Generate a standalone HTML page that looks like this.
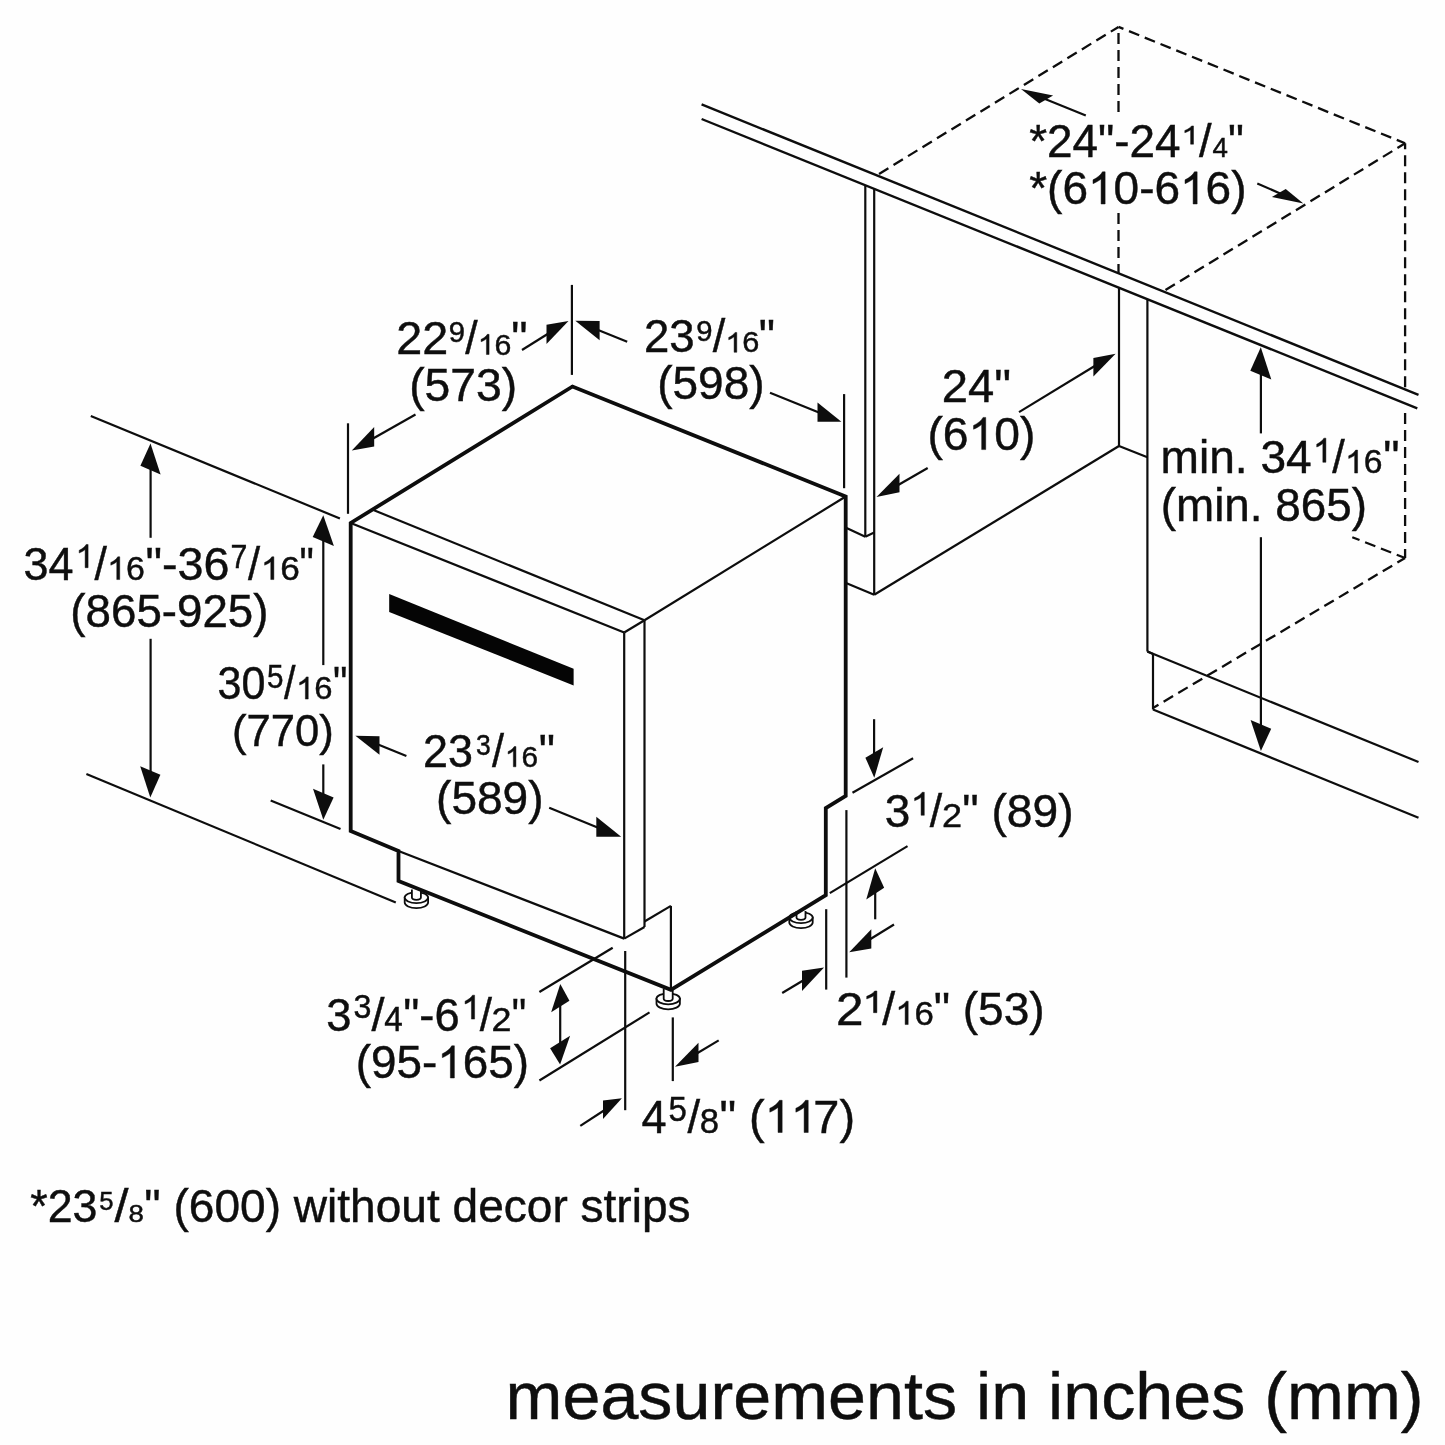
<!DOCTYPE html>
<html><head><meta charset="utf-8"><title>Dimensions</title>
<style>
html,body{margin:0;padding:0;background:#fff;}
body{width:1445px;height:1445px;overflow:hidden;}
svg{display:block;}
svg text{font-family:"Liberation Sans",sans-serif;fill:#0d0d0d;stroke:#0d0d0d;stroke-width:0.45px;}
</style></head><body>
<svg width="1445" height="1445" viewBox="0 0 1445 1445" stroke="#0d0d0d" stroke-linecap="butt">
<rect x="0" y="0" width="1445" height="1445" fill="#fefefe" stroke="none"/>
<line x1="701.60" y1="104.40" x2="1418.50" y2="394.82" stroke-width="2.4" />
<line x1="701.60" y1="119.00" x2="1417.30" y2="408.36" stroke-width="2.4" />
<line x1="1118.50" y1="26.90" x2="877.90" y2="174.60" stroke-width="2.3" stroke-dasharray="11 6" stroke-dashoffset="2"/>
<line x1="1405.10" y1="143.30" x2="1118.50" y2="26.90" stroke-width="2.3" stroke-dasharray="11 6" stroke-dashoffset="2"/>
<line x1="1118.50" y1="26.90" x2="1118.50" y2="114.80" stroke-width="2.3" stroke-dasharray="11 6" stroke-dashoffset="11"/>
<line x1="1118.50" y1="213.00" x2="1118.50" y2="273.29" stroke-width="2.3" stroke-dasharray="11 6" stroke-dashoffset="0"/>
<line x1="1405.10" y1="143.30" x2="1405.10" y2="388.50" stroke-width="2.3" stroke-dasharray="11 6" stroke-dashoffset="5"/>
<line x1="1405.10" y1="413.10" x2="1405.10" y2="558.00" stroke-width="2.3" stroke-dasharray="11 6" stroke-dashoffset="0"/>
<line x1="1405.10" y1="143.30" x2="1164.00" y2="291.00" stroke-width="2.3" stroke-dasharray="11 6" stroke-dashoffset="2"/>
<line x1="1405.10" y1="558.00" x2="1153.00" y2="708.00" stroke-width="2.3" stroke-dasharray="11 6" stroke-dashoffset="2"/>
<line x1="1405.10" y1="558.00" x2="1352.30" y2="537.20" stroke-width="2.3" stroke-dasharray="11 6" stroke-dashoffset="2"/>
<line x1="865.30" y1="185.18" x2="865.30" y2="536.70" stroke-width="2.2" />
<line x1="874.20" y1="188.78" x2="874.20" y2="594.80" stroke-width="2.2" />
<line x1="865.30" y1="536.70" x2="874.20" y2="532.60" stroke-width="2.2" />
<line x1="865.30" y1="536.70" x2="846.00" y2="527.70" stroke-width="2.2" />
<line x1="846.00" y1="583.00" x2="874.20" y2="594.80" stroke-width="2.2" />
<line x1="874.20" y1="594.80" x2="1119.00" y2="446.00" stroke-width="2.2" />
<line x1="1119.00" y1="287.75" x2="1119.00" y2="446.00" stroke-width="2.2" />
<line x1="1119.00" y1="446.00" x2="1147.40" y2="457.20" stroke-width="2.2" />
<line x1="1147.40" y1="299.24" x2="1147.40" y2="651.50" stroke-width="2.2" />
<line x1="1147.40" y1="651.50" x2="1418.50" y2="762.10" stroke-width="2.2" />
<line x1="1147.40" y1="651.50" x2="1153.00" y2="654.00" stroke-width="2.2" />
<line x1="1153.00" y1="654.00" x2="1153.00" y2="709.50" stroke-width="2.2" />
<line x1="1153.00" y1="709.50" x2="1418.50" y2="817.80" stroke-width="2.2" />
<line x1="350.70" y1="523.00" x2="624.20" y2="632.50" stroke-width="2.2" />
<line x1="374.00" y1="510.30" x2="644.50" y2="620.30" stroke-width="2.2" />
<line x1="624.20" y1="632.50" x2="644.50" y2="620.30" stroke-width="2.2" />
<line x1="644.50" y1="620.30" x2="845.70" y2="496.50" stroke-width="2.2" />
<line x1="624.20" y1="632.50" x2="624.20" y2="938.60" stroke-width="2.2" />
<line x1="644.50" y1="620.30" x2="644.50" y2="927.00" stroke-width="2.2" />
<line x1="624.20" y1="938.60" x2="644.50" y2="927.00" stroke-width="2.2" />
<line x1="644.50" y1="921.50" x2="670.90" y2="905.90" stroke-width="2.2" />
<line x1="670.90" y1="905.90" x2="670.90" y2="989.80" stroke-width="2.2" />
<line x1="398.50" y1="851.00" x2="624.20" y2="938.60" stroke-width="2.2" />
<polygon points="389.2,594 573.6,668.8 573.6,685.4 389.2,612" fill="#050505" stroke="none"/>
<path d="M404.70,897.60 L404.70,902.60 A11.7,5.5 0 0 0 428.10,902.60 L428.10,897.60 Z" fill="#fff" stroke="#0d0d0d" stroke-width="1.8"/>
<ellipse cx="416.40" cy="897.60" rx="11.7" ry="5.5" fill="#fff" stroke="#0d0d0d" stroke-width="1.8"/>
<path d="M411.90,889.50 L411.90,897.60 A4.5,2.2 0 0 0 420.90,897.60 L420.90,889.50" fill="#fff" stroke="#0d0d0d" stroke-width="1.8"/>
<path d="M656.50,998.80 L656.50,1003.80 A11.7,5.5 0 0 0 679.90,1003.80 L679.90,998.80 Z" fill="#fff" stroke="#0d0d0d" stroke-width="1.8"/>
<ellipse cx="668.20" cy="998.80" rx="11.7" ry="5.5" fill="#fff" stroke="#0d0d0d" stroke-width="1.8"/>
<path d="M663.70,989.00 L663.70,998.80 A4.5,2.2 0 0 0 672.70,998.80 L672.70,989.00" fill="#fff" stroke="#0d0d0d" stroke-width="1.8"/>
<path d="M789.30,917.60 L789.30,922.60 A11.7,5.5 0 0 0 812.70,922.60 L812.70,917.60 Z" fill="#fff" stroke="#0d0d0d" stroke-width="1.8"/>
<ellipse cx="801.00" cy="917.60" rx="11.7" ry="5.5" fill="#fff" stroke="#0d0d0d" stroke-width="1.8"/>
<path d="M796.50,911.00 L796.50,917.60 A4.5,2.2 0 0 0 805.50,917.60 L805.50,911.00" fill="#fff" stroke="#0d0d0d" stroke-width="1.8"/>
<polyline points="350.70,523.00 572.50,386.50 845.70,496.50 845.70,796.00 825.80,808.00 825.80,895.20 670.90,989.80 398.50,881.00 398.50,851.00 350.70,831.00 350.70,523.00 572.50,386.50" stroke-width="3.8" fill="none" stroke-linejoin="miter"/>
<line x1="90.80" y1="416.00" x2="339.90" y2="518.50" stroke-width="2.2" />
<line x1="86.40" y1="774.10" x2="395.80" y2="902.40" stroke-width="2.2" />
<line x1="270.70" y1="800.40" x2="340.50" y2="828.90" stroke-width="2.2" />
<line x1="150.60" y1="462.00" x2="150.60" y2="537.80" stroke-width="2.2" />
<line x1="150.60" y1="638.80" x2="150.60" y2="778.00" stroke-width="2.2" />
<polygon points="150.50,443.60 160.60,474.45 140.40,465.75" fill="#0d0d0d" stroke="none"/>
<polygon points="150.30,797.40 160.40,774.85 140.20,766.15" fill="#0d0d0d" stroke="none"/>
<line x1="323.30" y1="533.00" x2="323.30" y2="665.10" stroke-width="2.2" />
<line x1="323.30" y1="764.40" x2="323.30" y2="800.00" stroke-width="2.2" />
<polygon points="323.30,515.20 333.90,546.00 312.70,537.00" fill="#0d0d0d" stroke="none"/>
<polygon points="323.30,819.80 333.60,797.60 313.00,788.80" fill="#0d0d0d" stroke="none"/>
<line x1="571.90" y1="284.90" x2="571.90" y2="374.90" stroke-width="2.2" />
<line x1="348.00" y1="423.30" x2="348.00" y2="513.80" stroke-width="2.2" />
<line x1="844.10" y1="394.10" x2="844.10" y2="488.20" stroke-width="2.2" />
<line x1="522.00" y1="350.00" x2="552.00" y2="331.30" stroke-width="2.2" />
<polygon points="568.50,321.00 546.50,324.72 546.50,344.12" fill="#0d0d0d" stroke="none"/>
<line x1="415.50" y1="414.50" x2="370.00" y2="440.20" stroke-width="2.2" />
<polygon points="351.80,450.40 374.20,427.04 374.20,446.44" fill="#0d0d0d" stroke="none"/>
<line x1="627.20" y1="341.70" x2="595.00" y2="328.70" stroke-width="2.2" />
<polygon points="575.30,320.80 599.60,320.92 599.60,340.32" fill="#0d0d0d" stroke="none"/>
<line x1="770.00" y1="392.70" x2="822.00" y2="413.80" stroke-width="2.2" />
<polygon points="841.40,421.80 817.50,402.44 817.50,421.84" fill="#0d0d0d" stroke="none"/>
<line x1="927.70" y1="468.00" x2="893.00" y2="488.00" stroke-width="2.2" />
<polygon points="876.50,497.10 899.50,473.87 899.50,492.27" fill="#0d0d0d" stroke="none"/>
<line x1="1019.00" y1="412.10" x2="1098.00" y2="364.00" stroke-width="2.2" />
<polygon points="1115.60,353.70 1093.40,358.04 1093.40,376.44" fill="#0d0d0d" stroke="none"/>
<line x1="1085.80" y1="115.40" x2="1042.00" y2="97.80" stroke-width="2.2" />
<polygon points="1021.00,89.00 1053.10,95.60 1039.30,103.40" fill="#0d0d0d" stroke="none"/>
<line x1="1257.30" y1="183.40" x2="1283.00" y2="194.70" stroke-width="2.2" />
<polygon points="1303.40,203.40 1285.70,189.10 1271.90,196.90" fill="#0d0d0d" stroke="none"/>
<line x1="1260.90" y1="367.00" x2="1260.90" y2="433.40" stroke-width="2.2" />
<line x1="1260.90" y1="537.20" x2="1260.90" y2="733.00" stroke-width="2.2" />
<polygon points="1260.80,347.20 1271.30,379.50 1250.30,370.70" fill="#0d0d0d" stroke="none"/>
<polygon points="1260.90,751.00 1271.20,728.80 1250.60,720.00" fill="#0d0d0d" stroke="none"/>
<line x1="406.40" y1="756.00" x2="375.00" y2="743.20" stroke-width="2.2" />
<polygon points="355.40,735.80 379.50,736.24 379.50,754.84" fill="#0d0d0d" stroke="none"/>
<line x1="549.20" y1="807.70" x2="600.00" y2="828.50" stroke-width="2.2" />
<polygon points="621.20,836.80 596.30,816.74 596.30,836.74" fill="#0d0d0d" stroke="none"/>
<line x1="852.50" y1="792.80" x2="913.10" y2="758.30" stroke-width="2.2" />
<line x1="829.80" y1="893.10" x2="907.50" y2="846.10" stroke-width="2.2" />
<line x1="874.10" y1="719.20" x2="874.10" y2="758.00" stroke-width="2.2" />
<polygon points="874.30,777.70 883.20,747.25 865.40,757.75" fill="#0d0d0d" stroke="none"/>
<line x1="875.20" y1="886.00" x2="875.20" y2="919.30" stroke-width="2.2" />
<polygon points="875.20,868.30 884.15,887.70 866.25,899.50" fill="#0d0d0d" stroke="none"/>
<line x1="846.40" y1="810.10" x2="846.40" y2="977.60" stroke-width="2.2" />
<line x1="826.20" y1="909.20" x2="826.20" y2="989.60" stroke-width="2.2" />
<line x1="894.00" y1="924.50" x2="866.00" y2="941.80" stroke-width="2.2" />
<polygon points="849.20,952.30 871.30,929.22 871.30,948.42" fill="#0d0d0d" stroke="none"/>
<line x1="782.20" y1="993.00" x2="806.00" y2="978.80" stroke-width="2.2" />
<polygon points="824.00,967.50 802.00,970.72 802.00,991.12" fill="#0d0d0d" stroke="none"/>
<line x1="539.40" y1="992.00" x2="612.70" y2="947.70" stroke-width="2.2" />
<line x1="539.40" y1="1080.50" x2="649.50" y2="1012.40" stroke-width="2.2" />
<line x1="560.20" y1="1000.00" x2="560.20" y2="1048.00" stroke-width="2.2" />
<polygon points="560.30,984.10 569.45,1000.80 551.15,1012.20" fill="#0d0d0d" stroke="none"/>
<polygon points="560.10,1064.40 570.10,1035.65 550.10,1048.25" fill="#0d0d0d" stroke="none"/>
<line x1="625.20" y1="951.00" x2="625.20" y2="1110.20" stroke-width="2.2" />
<line x1="672.80" y1="1017.40" x2="672.80" y2="1081.10" stroke-width="2.2" />
<line x1="718.70" y1="1040.40" x2="693.00" y2="1055.80" stroke-width="2.2" />
<polygon points="675.00,1066.70 698.50,1042.66 698.50,1062.07" fill="#0d0d0d" stroke="none"/>
<line x1="580.30" y1="1125.90" x2="607.00" y2="1108.50" stroke-width="2.2" />
<polygon points="621.90,1098.20 603.00,1100.43 603.00,1119.03" fill="#0d0d0d" stroke="none"/>
<g style="opacity:0.995">
<text transform="translate(1029.21,156.50) scale(0.9801,1)" font-size="46.80">*24&quot;-24</text>
<path class="one" d="M1193.50,144.20 L1190.60,144.20 L1190.60,129.96 Q1189.55,130.73 1187.85,131.50 Q1186.16,132.27 1184.80,132.66 L1184.80,130.50 Q1187.22,129.62 1189.02,128.37 Q1190.82,127.12 1191.58,125.95 L1193.50,125.95 Z" fill="#0d0d0d" stroke="#0d0d0d" stroke-width="0.45"/>
<text transform="translate(1199.10,156.50) scale(0.9692,1)" font-size="46.80">/</text>
<text transform="translate(1212.45,156.50) scale(1.0015,1)" font-size="27.68">4</text>
<text transform="translate(1228.01,156.50) scale(0.9557,1)" font-size="46.80">&quot;</text>
<text transform="translate(1029.21,204.00) scale(0.9835,1)" font-size="46.80">*(6</text>
<path class="one" d="M1105.13,204.00 L1101.09,204.00 L1101.09,178.88 Q1099.62,180.23 1097.25,181.59 Q1094.89,182.95 1092.99,183.63 L1092.99,179.82 Q1096.36,178.27 1098.88,176.07 Q1101.40,173.87 1102.46,171.80 L1105.13,171.80 Z" fill="#0d0d0d" stroke="#0d0d0d" stroke-width="0.45"/>
<text transform="translate(1113.55,204.00) scale(0.9835,1)" font-size="46.80">0-6</text>
<path class="one" d="M1197.15,204.00 L1193.11,204.00 L1193.11,178.88 Q1191.65,180.23 1189.27,181.59 Q1186.91,182.95 1185.02,183.63 L1185.02,179.82 Q1188.39,178.27 1190.90,176.07 Q1193.42,173.87 1194.48,171.80 L1197.15,171.80 Z" fill="#0d0d0d" stroke="#0d0d0d" stroke-width="0.45"/>
<text transform="translate(1205.58,204.00) scale(0.9835,1)" font-size="46.80">6)</text>
<text transform="translate(396.26,354.40) scale(0.9986,1)" font-size="46.80">22</text>
<text transform="translate(448.78,342.21) scale(1.0179,1)" font-size="28.73">9</text>
<text transform="translate(465.20,354.40) scale(0.9539,1)" font-size="46.80">/</text>
<path class="one" d="M489.08,354.51 L486.42,354.51 L486.42,338.78 Q485.46,339.63 483.90,340.48 Q482.34,341.33 481.10,341.76 L481.10,339.37 Q483.32,338.40 484.97,337.02 Q486.63,335.65 487.33,334.35 L489.08,334.35 Z" fill="#0d0d0d" stroke="#0d0d0d" stroke-width="0.45"/>
<text transform="translate(494.61,354.51) scale(1.0335,1)" font-size="29.30">6</text>
<text transform="translate(511.27,354.40) scale(0.9790,1)" font-size="46.80">&quot;</text>
<text transform="translate(409.13,400.60) scale(0.9881,1)" font-size="46.80">(573)</text>
<text transform="translate(644.02,352.10) scale(0.9741,1)" font-size="46.80">23</text>
<text transform="translate(696.28,340.71) scale(0.9983,1)" font-size="29.30">9</text>
<text transform="translate(712.70,352.10) scale(0.9615,1)" font-size="46.80">/</text>
<path class="one" d="M736.79,352.31 L734.10,352.31 L734.10,336.81 Q733.12,337.65 731.54,338.49 Q729.96,339.33 728.70,339.74 L728.70,337.39 Q730.95,336.44 732.63,335.08 Q734.30,333.72 735.01,332.45 L736.79,332.45 Z" fill="#0d0d0d" stroke="#0d0d0d" stroke-width="0.45"/>
<text transform="translate(742.35,352.31) scale(1.0631,1)" font-size="28.87">6</text>
<text transform="translate(758.77,352.10) scale(0.9790,1)" font-size="46.80">&quot;</text>
<text transform="translate(657.14,399.40) scale(0.9833,1)" font-size="46.80">(598)</text>
<text transform="translate(941.84,402.10) scale(1.0085,1)" font-size="46.80">24&quot;</text>
<text transform="translate(927.43,449.60) scale(0.9881,1)" font-size="46.80">(6</text>
<path class="one" d="M985.73,449.60 L981.66,449.60 L981.66,424.48 Q980.19,425.83 977.81,427.19 Q975.43,428.55 973.53,429.23 L973.53,425.42 Q976.92,423.87 979.45,421.67 Q981.98,419.47 983.04,417.40 L985.73,417.40 Z" fill="#0d0d0d" stroke="#0d0d0d" stroke-width="0.45"/>
<text transform="translate(994.19,449.60) scale(0.9881,1)" font-size="46.80">0)</text>
<text transform="translate(1160.50,473.40) scale(0.9855,1)" font-size="46.80">min. 34</text>
<path class="one" d="M1325.90,462.30 L1322.83,462.30 L1322.83,443.47 Q1321.72,444.49 1319.93,445.51 Q1318.13,446.53 1316.70,447.03 L1316.70,444.18 Q1319.25,443.02 1321.16,441.37 Q1323.07,439.72 1323.87,438.17 L1325.90,438.17 Z" fill="#0d0d0d" stroke="#0d0d0d" stroke-width="0.45"/>
<text transform="translate(1332.20,473.40) scale(0.9615,1)" font-size="46.80">/</text>
<path class="one" d="M1357.59,473.07 L1354.63,473.07 L1354.63,455.15 Q1353.55,456.12 1351.82,457.08 Q1350.09,458.05 1348.70,458.54 L1348.70,455.82 Q1351.17,454.72 1353.01,453.15 Q1354.86,451.58 1355.63,450.10 L1357.59,450.10 Z" fill="#0d0d0d" stroke="#0d0d0d" stroke-width="0.45"/>
<text transform="translate(1363.85,473.07) scale(1.0099,1)" font-size="33.38">6</text>
<text transform="translate(1383.17,473.40) scale(0.9790,1)" font-size="46.80">&quot;</text>
<text transform="translate(1160.75,521.00) scale(0.9791,1)" font-size="46.80">(min. 865)</text>
<text transform="translate(23.50,579.60) scale(0.9595,1)" font-size="46.80">34</text>
<path class="one" d="M88.10,567.70 L85.13,567.70 L85.13,549.57 Q84.06,550.55 82.32,551.53 Q80.59,552.51 79.20,553.00 L79.20,550.25 Q81.67,549.14 83.52,547.55 Q85.36,545.96 86.14,544.47 L88.10,544.47 Z" fill="#0d0d0d" stroke="#0d0d0d" stroke-width="0.45"/>
<text transform="translate(94.40,579.60) scale(0.9539,1)" font-size="46.80">/</text>
<path class="one" d="M119.74,579.57 L116.76,579.57 L116.76,561.80 Q115.68,562.76 113.94,563.72 Q112.19,564.68 110.80,565.16 L110.80,562.47 Q113.28,561.38 115.14,559.82 Q116.99,558.26 117.77,556.80 L119.74,556.80 Z" fill="#0d0d0d" stroke="#0d0d0d" stroke-width="0.45"/>
<text transform="translate(125.91,579.57) scale(1.0248,1)" font-size="33.10">6</text>
<text transform="translate(145.43,579.60) scale(0.9963,1)" font-size="46.80">&quot;-36</text>
<text transform="translate(230.48,567.70) scale(0.9060,1)" font-size="33.48">7</text>
<text transform="translate(248.00,579.60) scale(0.9310,1)" font-size="46.80">/</text>
<path class="one" d="M273.87,579.57 L270.78,579.57 L270.78,561.80 Q269.66,562.76 267.85,563.72 Q266.05,564.68 264.60,565.16 L264.60,562.47 Q267.17,561.38 269.10,559.82 Q271.02,558.26 271.83,556.80 L273.87,556.80 Z" fill="#0d0d0d" stroke="#0d0d0d" stroke-width="0.45"/>
<text transform="translate(280.27,579.57) scale(1.0625,1)" font-size="33.10">6</text>
<text transform="translate(299.49,579.60) scale(0.8625,1)" font-size="46.80">&quot;</text>
<text transform="translate(70.36,627.00) scale(0.9764,1)" font-size="46.80">(865-925)</text>
<text transform="translate(217.48,698.90) scale(0.9208,1)" font-size="46.80">30</text>
<text transform="translate(266.91,687.57) scale(0.8956,1)" font-size="33.14">5</text>
<text transform="translate(284.10,698.90) scale(0.8852,1)" font-size="46.80">/</text>
<path class="one" d="M308.24,699.08 L305.36,699.08 L305.36,681.76 Q304.32,682.70 302.63,683.64 Q300.95,684.57 299.60,685.04 L299.60,682.41 Q302.00,681.35 303.79,679.83 Q305.58,678.31 306.34,676.89 L308.24,676.89 Z" fill="#0d0d0d" stroke="#0d0d0d" stroke-width="0.45"/>
<text transform="translate(314.26,699.08) scale(1.0162,1)" font-size="32.25">6</text>
<text transform="translate(332.89,698.90) scale(0.8625,1)" font-size="46.80">&quot;</text>
<text transform="translate(232.08,746.00) scale(0.9914,1)" font-size="44.00">(770)</text>
<text transform="translate(423.05,766.60) scale(0.9594,1)" font-size="46.80">23</text>
<text transform="translate(476.04,755.10) scale(0.8968,1)" font-size="29.58">3</text>
<text transform="translate(492.10,766.60) scale(0.9234,1)" font-size="46.80">/</text>
<path class="one" d="M515.95,766.81 L513.33,766.81 L513.33,751.00 Q512.39,751.86 510.85,752.71 Q509.32,753.57 508.10,753.99 L508.10,751.60 Q510.28,750.62 511.91,749.24 Q513.53,747.85 514.22,746.55 L515.95,746.55 Z" fill="#0d0d0d" stroke="#0d0d0d" stroke-width="0.45"/>
<text transform="translate(521.44,766.81) scale(1.0109,1)" font-size="29.44">6</text>
<text transform="translate(538.77,766.60) scale(0.9790,1)" font-size="46.80">&quot;</text>
<text transform="translate(436.04,814.40) scale(0.9843,1)" font-size="46.80">(589)</text>
<text transform="translate(884.76,827.20) scale(0.9807,1)" font-size="46.80">3</text>
<path class="one" d="M924.30,815.30 L921.07,815.30 L921.07,797.33 Q919.90,798.30 918.00,799.27 Q916.11,800.24 914.60,800.73 L914.60,798.00 Q917.29,796.90 919.30,795.32 Q921.32,793.75 922.16,792.27 L924.30,792.27 Z" fill="#0d0d0d" stroke="#0d0d0d" stroke-width="0.45"/>
<text transform="translate(929.80,827.20) scale(0.9539,1)" font-size="46.80">/</text>
<text transform="translate(942.10,827.10) scale(1.0829,1)" font-size="33.29">2</text>
<text transform="translate(962.25,827.20) scale(0.9861,1)" font-size="46.80">&quot; (89)</text>
<text transform="translate(835.93,1024.90) scale(1.0566,1)" font-size="46.80">2</text>
<path class="one" d="M876.90,1012.70 L873.50,1012.70 L873.50,995.74 Q872.27,996.66 870.28,997.57 Q868.29,998.49 866.70,998.95 L866.70,996.37 Q869.53,995.33 871.65,993.85 Q873.76,992.36 874.65,990.96 L876.90,990.96 Z" fill="#0d0d0d" stroke="#0d0d0d" stroke-width="0.45"/>
<text transform="translate(882.20,1024.90) scale(0.9921,1)" font-size="46.80">/</text>
<path class="one" d="M908.19,1024.56 L905.13,1024.56 L905.13,1006.34 Q904.02,1007.32 902.22,1008.31 Q900.43,1009.30 899.00,1009.79 L899.00,1007.02 Q901.55,1005.90 903.46,1004.30 Q905.36,1002.71 906.17,1001.21 L908.19,1001.21 Z" fill="#0d0d0d" stroke="#0d0d0d" stroke-width="0.45"/>
<text transform="translate(914.62,1024.56) scale(1.0269,1)" font-size="33.94">6</text>
<text transform="translate(933.66,1024.90) scale(0.9833,1)" font-size="46.80">&quot; (53)</text>
<text transform="translate(326.29,1031.00) scale(0.9672,1)" font-size="46.80">3</text>
<text transform="translate(353.41,1017.97) scale(0.9858,1)" font-size="32.68">3</text>
<text transform="translate(371.40,1031.00) scale(0.9997,1)" font-size="46.80">/</text>
<text transform="translate(384.13,1031.00) scale(0.9604,1)" font-size="34.64">4</text>
<text transform="translate(403.29,1031.00) scale(0.9684,1)" font-size="46.80">&quot;-6</text>
<path class="one" d="M474.60,1019.10 L471.43,1019.10 L471.43,1000.43 Q470.29,1001.44 468.43,1002.45 Q466.58,1003.46 465.10,1003.96 L465.10,1001.13 Q467.74,999.98 469.71,998.34 Q471.68,996.71 472.51,995.17 L474.60,995.17 Z" fill="#0d0d0d" stroke="#0d0d0d" stroke-width="0.45"/>
<text transform="translate(479.70,1031.00) scale(0.9386,1)" font-size="46.80">/</text>
<text transform="translate(491.41,1030.70) scale(1.0626,1)" font-size="33.71">2</text>
<text transform="translate(511.87,1031.00) scale(0.8702,1)" font-size="46.80">&quot;</text>
<text transform="translate(355.85,1078.00) scale(0.9798,1)" font-size="46.80">(95-</text>
<path class="one" d="M454.39,1078.00 L450.36,1078.00 L450.36,1052.88 Q448.90,1054.23 446.54,1055.59 Q444.18,1056.95 442.30,1057.63 L442.30,1053.82 Q445.65,1052.27 448.16,1050.07 Q450.67,1047.87 451.72,1045.80 L454.39,1045.80 Z" fill="#0d0d0d" stroke="#0d0d0d" stroke-width="0.45"/>
<text transform="translate(462.78,1078.00) scale(0.9798,1)" font-size="46.80">65)</text>
<text transform="translate(641.50,1132.50) scale(0.9647,1)" font-size="46.80">4</text>
<text transform="translate(668.48,1121.16) scale(0.9640,1)" font-size="34.29">5</text>
<text transform="translate(687.50,1132.50) scale(0.9692,1)" font-size="46.80">/</text>
<text transform="translate(699.64,1132.66) scale(1.0092,1)" font-size="34.37">8</text>
<text transform="translate(719.42,1132.50) scale(1.0025,1)" font-size="46.80">&quot; (</text>
<path class="one" d="M782.17,1132.50 L778.04,1132.50 L778.04,1107.38 Q776.55,1108.73 774.13,1110.09 Q771.72,1111.45 769.79,1112.13 L769.79,1108.32 Q773.23,1106.77 775.80,1104.57 Q778.36,1102.37 779.44,1100.30 L782.17,1100.30 Z" fill="#0d0d0d" stroke="#0d0d0d" stroke-width="0.45"/>
<path class="one" d="M808.23,1132.50 L804.11,1132.50 L804.11,1107.38 Q802.62,1108.73 800.20,1110.09 Q797.79,1111.45 795.86,1112.13 L795.86,1108.32 Q799.29,1106.77 801.86,1104.57 Q804.43,1102.37 805.51,1100.30 L808.23,1100.30 Z" fill="#0d0d0d" stroke="#0d0d0d" stroke-width="0.45"/>
<text transform="translate(813.34,1132.50) scale(1.0025,1)" font-size="46.80">7)</text>
<text transform="translate(30.23,1221.90) scale(0.9567,1)" font-size="46.80">*23</text>
<text transform="translate(99.27,1210.35) scale(1.0158,1)" font-size="25.29">5</text>
<text transform="translate(114.40,1221.90) scale(1.0760,1)" font-size="46.80">/</text>
<text transform="translate(128.46,1221.67) scale(1.1902,1)" font-size="23.24">8</text>
<text transform="translate(144.36,1221.90) scale(0.9843,1)" font-size="46.80">&quot; (600) without decor strips</text>
<text transform="translate(505.56,1418.50) scale(1.0268,1)" font-size="66.50">measurements in inches (mm)</text>
</g>
</svg>
</body></html>
